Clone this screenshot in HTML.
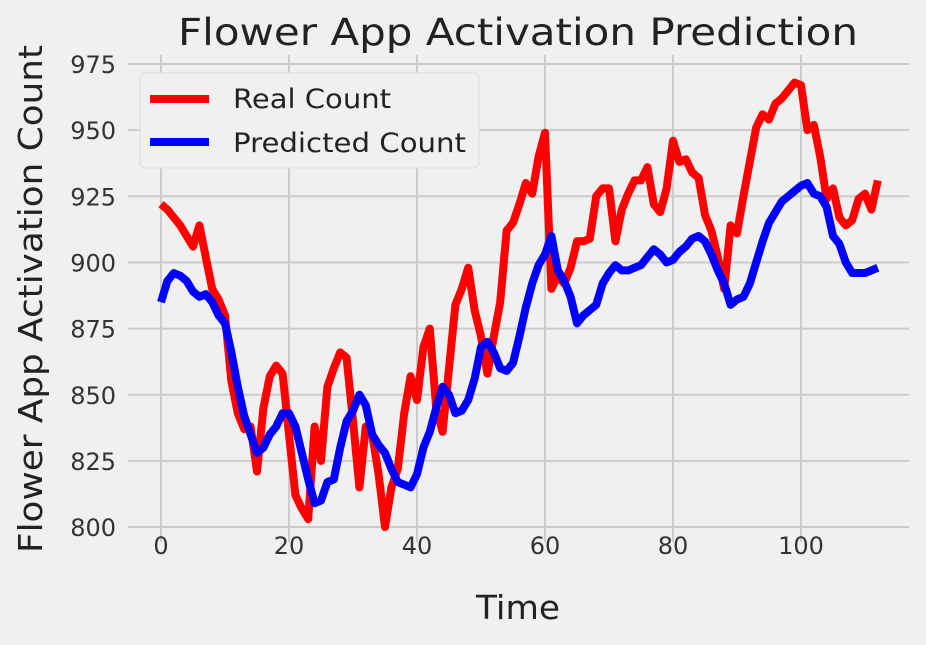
<!DOCTYPE html>
<html><head><meta charset="utf-8"><style>
body{margin:0;background:#f0f0f0;}
svg{display:block;font-family:"DejaVu Sans","Liberation Sans",sans-serif;}
</style></head><body>
<svg width="926" height="645" xmlns="http://www.w3.org/2000/svg">
<rect width="926" height="645" fill="#f0f0f0"/>
<g id="grid"></g>
<g id="ticks"></g>
<g id="lines"></g>
<text x="518" y="45" font-size="37" text-anchor="middle" fill="#222" textLength="680" lengthAdjust="spacingAndGlyphs">Flower App Activation Prediction</text>
<text x="518" y="619" font-size="33" text-anchor="middle" fill="#222" textLength="84" lengthAdjust="spacingAndGlyphs">Time</text>
<text transform="translate(42,299) rotate(-90)" font-size="33" text-anchor="middle" fill="#222" textLength="508" lengthAdjust="spacingAndGlyphs">Flower App Activation Count</text>
<g>
<rect x="140" y="73" width="339" height="95" rx="5" fill="#f0f0f0" stroke="#dcdcdc"/>
<line x1="150" y1="99" x2="209" y2="99" stroke="#ff0000" stroke-width="8"/>
<text x="233" y="108" font-size="27" fill="#222" textLength="158" lengthAdjust="spacingAndGlyphs">Real Count</text>
<line x1="150" y1="142" x2="209" y2="142" stroke="#0000ff" stroke-width="8"/>
<text x="233" y="152" font-size="27" fill="#222" textLength="233" lengthAdjust="spacingAndGlyphs">Predicted Count</text>
</g>
</svg>
<script>
const xTicks=[0,20,40,60,80,100];
const yTicks=[800,825,850,875,900,925,950,975];
const realCount=[922,920,917,914,910,906,914,902,890,886,880,855,843,837,838,821,845,857,861,858,835,812,807,803,838,825,853,860,866,864,840,815,838,835,820,800,815,822,843,857,848,868,875,845,836,860,884,890,898,882,872,858,872,885,912,915,922,930,926,940,949,890,895,892,898,908,908,909,925,928,928,908,920,926,931,931,936,922,919,928,946,938,939,934,932,918,912,902,890,914,911,925,938,951,956,954,960,962,965,968,967,950,952,940,924,928,917,914,916,924,926,920,931];
const predictedCount=[885,893,896,895,893,889,887,888,885,880,877,866,853,842,835,828,830,835,838,843,843,838,828,818,809,810,817,818,830,840,844,850,846,835,831,828,822,817,816,815,820,830,836,845,853,850,843,844,848,856,868,870,866,860,859,862,872,883,892,899,903,910,897,893,887,877,880,882,884,892,896,899,897,897,898,899,902,905,903,900,901,904,906,909,910,908,903,897,892,884,886,887,892,900,908,915,919,923,925,927,929,930,926,925,921,910,907,900,896,896,896,897,898];
const X=v=>161+v*6.4;
const Y=v=>64+(975-v)*2.646;
const NS="http://www.w3.org/2000/svg";
const grid=document.getElementById('grid'),ticks=document.getElementById('ticks'),lines=document.getElementById('lines');
for(const t of xTicks){
 const l=document.createElementNS(NS,'line');
 l.setAttribute('x1',X(t));l.setAttribute('x2',X(t));l.setAttribute('y1',55);l.setAttribute('y2',542);
 l.setAttribute('stroke','#cbcbcb');l.setAttribute('stroke-width','2');
 
 
 grid.appendChild(l);
 const tx=document.createElementNS(NS,'text');
 tx.setAttribute('x',X(t));tx.setAttribute('y',554);tx.setAttribute('text-anchor','middle');tx.setAttribute('font-size','24');tx.setAttribute('fill','#333');
 tx.textContent=t;
 
 
 ticks.appendChild(tx);
}
for(const t of yTicks){
 const l=document.createElementNS(NS,'line');
 l.setAttribute('x1',128);l.setAttribute('x2',909);l.setAttribute('y1',Y(t));l.setAttribute('y2',Y(t));
 l.setAttribute('stroke','#cbcbcb');l.setAttribute('stroke-width','2');
 
 
 grid.appendChild(l);
 const tx=document.createElementNS(NS,'text');
 tx.setAttribute('x',116);tx.setAttribute('y',Y(t)+9);tx.setAttribute('text-anchor','end');tx.setAttribute('font-size','24');tx.setAttribute('fill','#333');
 tx.textContent=t;
 
 
 ticks.appendChild(tx);
}
function draw(arr,color,name){
 const p=document.createElementNS(NS,'polyline');
 p.setAttribute('points',arr.map((v,i)=>X(i)+','+Y(v)).join(' '));
 p.setAttribute('fill','none');p.setAttribute('stroke',color);p.setAttribute('stroke-width','8');p.setAttribute('stroke-linejoin','round');
 
 
 lines.appendChild(p);
}
draw(realCount,'#ff0000','real-count-line');
draw(predictedCount,'#0000ff','predicted-count-line');
</script>
</body></html>
